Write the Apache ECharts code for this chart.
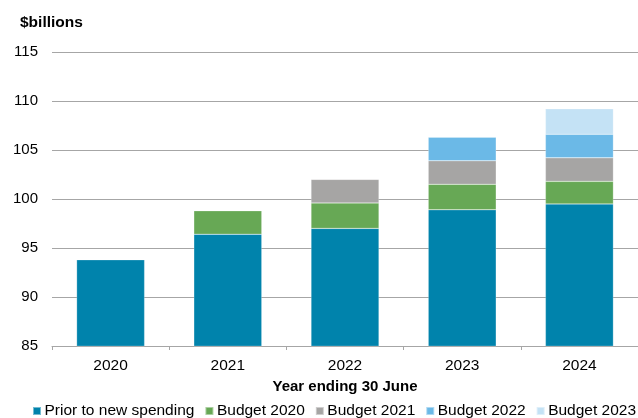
<!DOCTYPE html>
<html>
<head>
<meta charset="utf-8">
<script src="https://cdn.jsdelivr.net/npm/echarts@6/dist/echarts.min.js"></script>
<style>
  html, body { margin: 0; padding: 0; background: #fff; }
  #chart { width: 638px; height: 418px; }
</style>
</head>
<body>
<div id="chart"></div>
<script>
// Years (ending 30 June) and the stacked spending components, $billions
const years = ['2020', '2021', '2022', '2023', '2024'];
const priorToNewSpending = [93.8, 96.4, 97.0, 98.9, 99.5];
const budget2020 = [null, 2.4, 2.6, 2.6, 2.3];
const budget2021 = [null, null, 2.4, 2.4, 2.4];
const budget2022 = [null, null, null, 2.4, 2.4];
const budget2023 = [null, null, null, null, 2.6];

const seriesNames = ['Prior to new spending', 'Budget 2020', 'Budget 2021', 'Budget 2022', 'Budget 2023'];
const seriesColors = ['#0083AC', '#67A855', '#A6A5A4', '#6BB9E7', '#C4E2F5'];
const seriesValues = [priorToNewSpending, budget2020, budget2021, budget2022, budget2023];

const FONT = '"Liberation Sans", Arial, sans-serif';
const GRID_GREY = '#A6A6A6';

const chart = echarts.init(document.getElementById('chart'), null, { renderer: 'canvas' });

chart.setOption({
  animation: false,
  backgroundColor: '#ffffff',
  title: {
    text: '$billions',
    left: 15,
    top: 10,
    textStyle: { fontFamily: FONT, fontSize: 15.5, fontWeight: 'bold', color: '#000' }
  },
  grid: { left: 52, right: 0, top: 52, bottom: 72 },
  legend: {
    data: seriesNames,
    left: 32,
    top: 403,
    width: 630,
    padding: 0,
    icon: 'rect',
    itemWidth: 8,
    itemHeight: 8,
    itemGap: 10,
    textStyle: { fontFamily: FONT, fontSize: 15.5, color: '#000', padding: [0, 0, 0, -1.5] }
  },
  xAxis: {
    type: 'category',
    data: years,
    name: 'Year ending 30 June',
    nameLocation: 'middle',
    nameGap: 33,
    nameTextStyle: { fontFamily: FONT, fontSize: 15, fontWeight: 'bold', color: '#000' },
    axisLine: { lineStyle: { color: GRID_GREY, width: 1 } },
    axisTick: { show: true, length: 4, lineStyle: { color: GRID_GREY } },
    axisLabel: { fontFamily: FONT, fontSize: 15.5, color: '#000', margin: 12 }
  },
  yAxis: {
    type: 'value',
    min: 85,
    max: 115,
    interval: 5,
    axisLine: { show: false },
    axisTick: { show: false },
    axisLabel: { fontFamily: FONT, fontSize: 15, color: '#000', margin: 14 },
    splitLine: { lineStyle: { color: GRID_GREY, width: 1 } }
  },
  series: seriesNames.map((name, i) => ({
    name: name,
    type: 'bar',
    stack: 'total',
    barWidth: '58%',
    data: seriesValues[i],
    itemStyle: {
      color: seriesColors[i],
      borderColor: 'rgba(255,255,255,0.45)',
      borderWidth: 0.5
    }
  }))
});
</script>
</body>
</html>
